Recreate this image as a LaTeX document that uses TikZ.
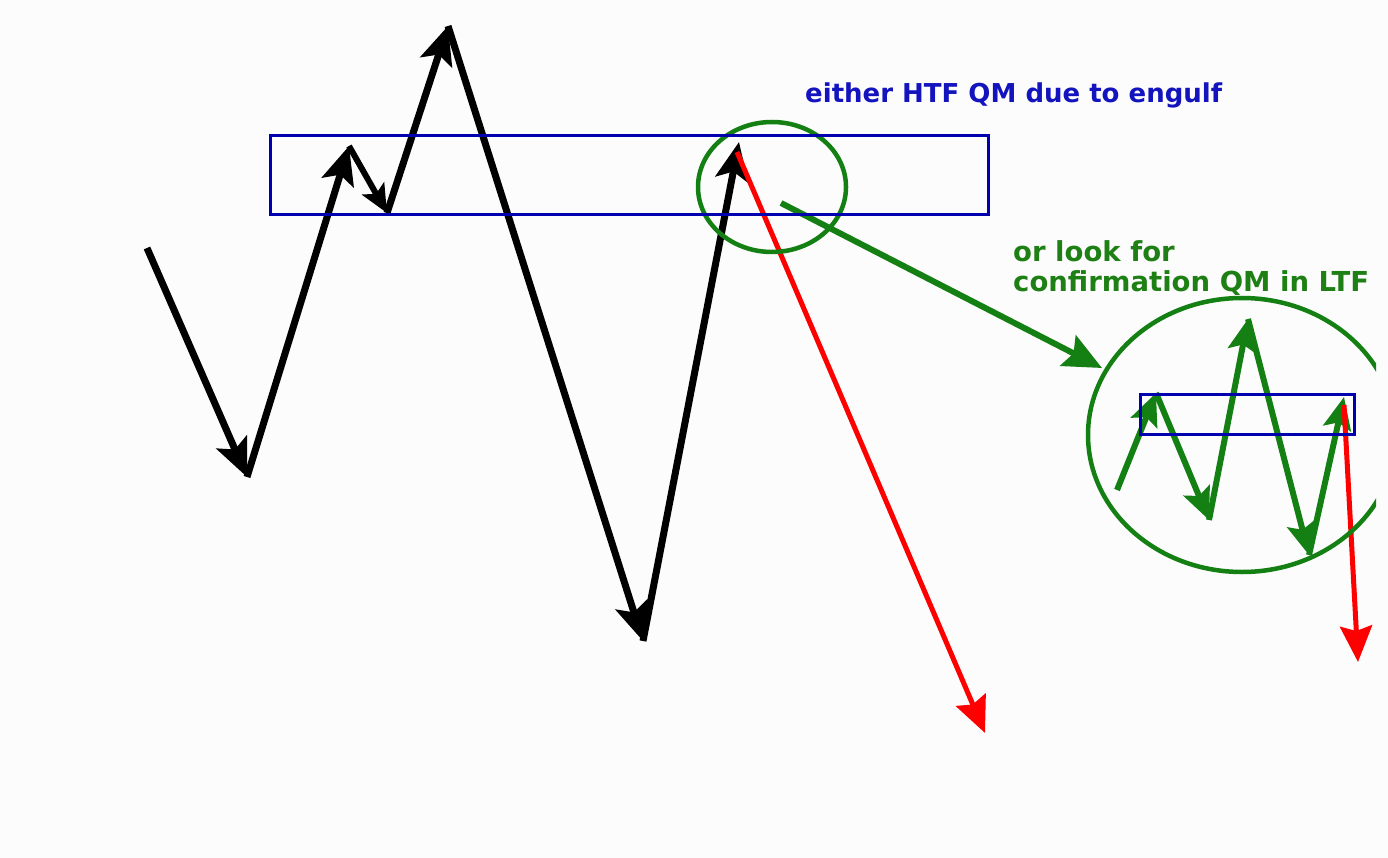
\documentclass[tikz,border=0pt]{standalone}
\usepackage{fontspec}
\setmainfont{DejaVu Sans}
\usetikzlibrary{arrows.meta}
\definecolor{bgc}{HTML}{FCFCFC}
\definecolor{rectblue}{RGB}{0,0,175}
\definecolor{txtblue}{RGB}{20,20,190}
\definecolor{grn}{RGB}{20,128,20}
\definecolor{txtgrn}{RGB}{30,128,20}
\definecolor{redc}{RGB}{255,0,0}
\tikzset{
  blk/.style={line width=7pt, black, -{Stealth[length=38pt,width=33pt,inset=8pt]}},
  blksmall/.style={line width=6pt, black, -{Stealth[length=28pt,width=25pt,inset=6pt]}},
  redarr/.style={line width=5pt, redc, -{Stealth[length=36pt,width=32pt,inset=5pt]}},
  grnbig/.style={line width=6pt, grn, -{Stealth[length=38pt,width=34pt,inset=6pt]}},
  grnzig/.style={line width=6pt, grn, -{Stealth[length=32pt,width=28pt,inset=6pt]}},
  circ/.style={line width=4.5pt, grn},
  qmbox/.style={line width=3pt, rectblue},
  lbl/.style={anchor=base west, inner sep=0pt}
}
\begin{document}
\begin{tikzpicture}[x=1pt,y=-1pt]
\fill[bgc] (0,0) rectangle (1388,858);
\useasboundingbox (0,0) rectangle (1388,858);

% main black swing path
\coordinate (b0) at (147,248);
\coordinate (b1) at (247,477);
\coordinate (b2) at (349,146);
\coordinate (b3) at (387,213);
\coordinate (b4) at (448,26);
\coordinate (b5) at (643,641);
\coordinate (b6) at (739,142);
\draw[blk] (b0) -- (b1);
\draw[blk] (b1) -- (b2);
\draw[blksmall] (b2) -- (b3);
\draw[blk] (b3) -- (b4);
\draw[blk] (b4) -- (b5);
\draw[blk] (b5) -- (b6);

% red drop from top
\coordinate (r0) at (737,152);
\coordinate (r1) at (985,733);
\draw[redarr] (r0) -- (r1);

% green pointer
\coordinate (g0) at (781,203);
\coordinate (g1) at (1102,368);
\draw[grnbig] (g0) -- (g1);

% LTF zigzag
\coordinate (z0) at (1117,490);
\coordinate (z1) at (1156,393);
\coordinate (z2) at (1209,520);
\coordinate (z3) at (1248,319);
\coordinate (z4) at (1309,555);
\coordinate (z5) at (1344,397);
\draw[grnzig] (z0) -- (z1);
\draw[grnzig] (z1) -- (z2);
\draw[grnzig] (z2) -- (z3);
\draw[grnzig] (z3) -- (z4);
\draw[grnzig] (z4) -- (z5);

% red drop in LTF
\coordinate (s0) at (1344,405);
\coordinate (s1) at (1358,662);
\draw[redarr] (s0) -- (s1);

% circles
\draw[circ] (772,187) ellipse [x radius=74, y radius=65];
\begin{scope}
  \clip (0,0) rectangle (1376,858);
  \draw[circ] (1242,435) ellipse [x radius=154, y radius=137];
\end{scope}

% blue zones
\draw[qmbox] (270,136) rectangle (988,215);
\draw[qmbox] (1140,394) rectangle (1354,434);

% labels
\node[lbl, text=txtblue, font=\bfseries\fontsize{26}{30}\selectfont] (t1) at (805,103) {either HTF QM due to engulf};
\node[lbl, text=txtgrn, font=\bfseries\fontsize{27.5}{30}\selectfont] (t2) at (1013,262) {or look for};
\node[lbl, text=txtgrn, font=\bfseries\fontsize{27.5}{30}\selectfont] (t3) at (1013,292) {confirmation QM in LTF};
\end{tikzpicture}
\end{document}
